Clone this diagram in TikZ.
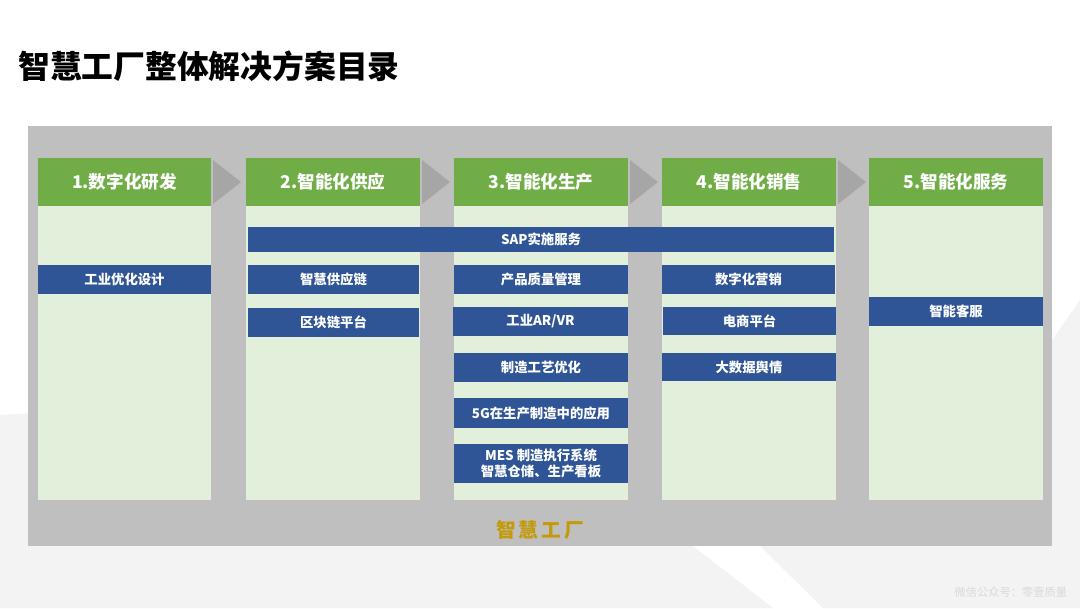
\documentclass[tikz,border=0pt]{standalone}
\usepackage{fontspec}
\setmainfont{Noto Sans CJK SC}

\begin{document}
\begin{tikzpicture}[x=0.025cm, y=-0.025cm,
    header/.style={fill=hdrgreen, text=white, inner sep=0pt,
        minimum width=4.325cm, minimum height=1.2cm,
        font=\bfseries\fontsize{12.5}{14}\selectfont},
    colbody/.style={fill=bodygreen, inner sep=0pt,
        minimum width=4.325cm, minimum height=7.35cm},
    item/.style={fill=itemblue, text=white, inner sep=0pt, align=center,
        minimum width=4.325cm, minimum height=0.725cm,
        font=\bfseries\fontsize{9.5}{11.5}\selectfont},
    flow/.style={fill=flowgray, draw=none}]
    \definecolor{hdrgreen}{HTML}{70AD47}
    \definecolor{bodygreen}{HTML}{E2EFDA}
    \definecolor{itemblue}{HTML}{2F5597}
    \definecolor{panelgray}{HTML}{BFBFBF}
    \definecolor{flowgray}{HTML}{A6A6A6}
    \definecolor{factorygold}{HTML}{C49A0A}
    \definecolor{bgshade}{HTML}{F3F3F3}
    \useasboundingbox (0,0) rectangle (1080,608);

    % faint background shading
    \fill[bgshade] (0,415) -- (600,380) -- (693,546) -- (773,608) -- (0,608) -- cycle;
    \fill[bgshade] (760,546) -- (1052,340) -- (1080,300) -- (1080,608) -- (823,608) -- cycle;

    % title
    \node[anchor=west, inner sep=0pt, font=\bfseries\fontsize{22.6}{26}\selectfont] (title) at (18,66) {智慧工厂整体解决方案目录};

    % grey panel
    \node[fill=panelgray, inner sep=0pt, minimum width=25.6cm, minimum height=10.5cm] (panel) at (540,336) {};

    % column bodies
    \node[colbody] (body1) at (124.5,353) {};
    \node[colbody] (body2) at (333,353) {};
    \node[colbody] (body3) at (541,353) {};
    \node[colbody] (body4) at (749,353) {};
    \node[colbody] (body5) at (956,353) {};

    % column headers
    \node[header] (head1) at (124.5,182) {1.数字化研发};
    \node[header] (head2) at (333,182) {2.智能化供应};
    \node[header] (head3) at (541,182) {3.智能化生产};
    \node[header] (head4) at (749,182) {4.智能化销售};
    \node[header] (head5) at (956,182) {5.智能化服务};

    % flow arrows between headers
    \fill[flow] (213,160) -- (241,182) -- (213,204) -- cycle;
    \fill[flow] (422,160) -- (450,182) -- (422,204) -- cycle;
    \fill[flow] (630,160) -- (658,182) -- (630,204) -- cycle;
    \fill[flow] (838,160) -- (866,182) -- (838,204) -- cycle;

    % spanning item
    \node[item, minimum width=14.65cm, minimum height=0.625cm] (sap) at (541,239.5) {SAP实施服务};

    % column 1
    \node[item] (design) at (124.5,279.5) {工业优化设计};
    % column 2
    \node[item, minimum width=4.275cm] (supply) at (333.5,279) {智慧供应链};
    \node[item, minimum width=4.275cm] (chain) at (333.5,322.5) {区块链平台};
    % column 3
    \node[item] (quality) at (541,279.5) {产品质量管理};
    \node[item, minimum width=4.375cm] (arvr) at (540.5,321.5) {工业AR/VR};
    \node[item] (process) at (541,367.5) {制造工艺优化};
    \node[item, minimum height=0.75cm] (fiveg) at (541,413) {5G在生产制造中的应用};
    \node[item, minimum height=0.975cm] (mes) at (541,463.5) {MES 制造执行系统\\智慧仓储、生产看板};
    % column 4
    \node[item] (market) at (748.5,279.5) {数字化营销};
    \node[item, minimum height=0.7cm] (ecom) at (749.5,321) {电商平台};
    \node[item, minimum height=0.7cm] (opinion) at (749,367) {大数据舆情};
    % column 5
    \node[item] (service) at (956,311.5) {智能客服};

    % panel caption
    \node[text=factorygold, font=\bfseries\fontsize{14}{16}\selectfont\addfontfeature{LetterSpace=15}] (factory) at (540,530) {智慧工厂};

    % watermark
    \node[anchor=east, text=black!15, font=\fontsize{8}{10}\selectfont] (mark) at (1072,592) {微信公众号：零壹质量};
\end{tikzpicture}
\end{document}
